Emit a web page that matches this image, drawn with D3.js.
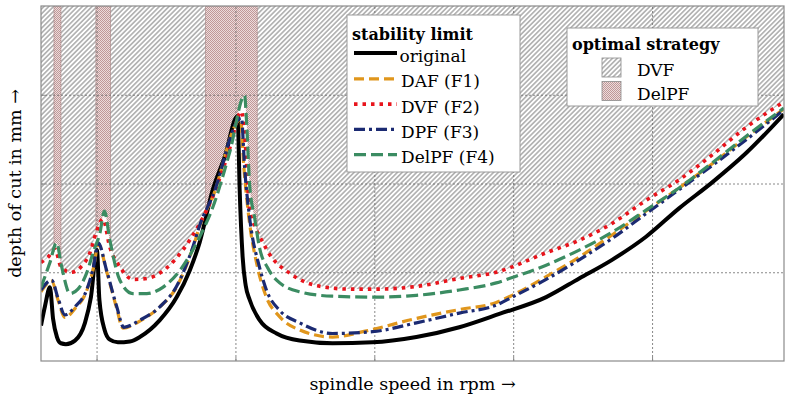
<!DOCTYPE html>
<html>
<head>
<meta charset="utf-8">
<script src="https://cdn.jsdelivr.net/npm/d3@7"></script>
<style>
  body { margin: 0; background: #fff; }
  svg { display: block; }
</style>
</head>
<body>
<div class="canvas"></div>
<script>
// stability limits, [spindle speed in rpm, depth of cut in mm]
const original = [[1200,0.40],[1258,0.62],[1329,0.83],[1373,0.48],[1430,0.27],[1487,0.20],[1559,0.19],[1689,0.23],[1833,0.43],[1919,0.72],[2005,1.25],[2041,0.69],[2116,0.35],[2192,0.24],[2307,0.21],[2480,0.22],[2623,0.27],[2911,0.46],[3155,0.72],[3342,1.02],[3486,1.34],[3673,1.93],[3846,2.30],[4032,2.76],[4061,1.93],[4104,1.17],[4148,0.85],[4205,0.69],[4349,0.46],[4593,0.31],[4924,0.23],[5398,0.20],[5973,0.21],[6606,0.27],[7224,0.38],[7800,0.53],[8475,0.72],[8950,0.93],[9424,1.14],[9913,1.40],[10388,1.72],[10862,2.01],[11351,2.34],[11897,2.78]];
const daf = [[1200,0.78],[1354,0.90],[1444,0.69],[1545,0.49],[1689,0.59],[1857,0.79],[1962,1.07],[2024,1.32],[2145,1.01],[2288,0.60],[2379,0.37],[2623,0.45],[2911,0.61],[3151,0.83],[3385,1.27],[3486,1.52],[3673,1.85],[4075,2.72],[4119,2.21],[4190,1.64],[4320,1.05],[4435,0.74],[4636,0.50],[4924,0.35],[5398,0.27],[5887,0.34],[6606,0.48],[7224,0.58],[7757,0.66],[7986,0.74],[8475,0.95],[8950,1.17],[9424,1.42],[9913,1.69],[10388,1.95],[10862,2.22],[11351,2.52],[11897,2.84]];
const dvf = [[1200,1.11],[1301,1.17],[1401,1.26],[1487,1.06],[1631,1.00],[1775,1.06],[1905,1.22],[1991,1.44],[2091,1.60],[2192,1.28],[2336,1.06],[2523,0.92],[2724,0.93],[3012,1.05],[3242,1.25],[3486,1.55],[3673,1.85],[3889,2.32],[4090,2.81],[4133,2.55],[4205,1.70],[4291,1.50],[4378,1.36],[4493,1.20],[4780,0.99],[5164,0.85],[5643,0.81],[6031,0.81],[6606,0.84],[7224,0.93],[7757,1.00],[8475,1.22],[8950,1.36],[9424,1.55],[9913,1.81],[10388,2.04],[10862,2.32],[11351,2.63],[11897,2.92]];
const dpf = [[1200,0.80],[1354,0.91],[1444,0.71],[1545,0.52],[1689,0.61],[1857,0.80],[1962,1.08],[2024,1.33],[2145,1.02],[2288,0.62],[2393,0.38],[2623,0.46],[2911,0.61],[3151,0.84],[3385,1.28],[3486,1.53],[3673,1.86],[4086,2.74],[4133,2.17],[4205,1.61],[4349,1.05],[4446,0.80],[4636,0.57],[4924,0.43],[5398,0.31],[5973,0.33],[6606,0.43],[7224,0.54],[7757,0.63],[7986,0.72],[8475,0.92],[8950,1.14],[9424,1.38],[9913,1.66],[10388,1.93],[10862,2.20],[11351,2.49],[11897,2.83]];
const delpf = [[1200,0.83],[1329,1.11],[1423,1.33],[1498,1.06],[1617,0.76],[1732,0.81],[1857,0.99],[1962,1.25],[2048,1.44],[2113,1.69],[2192,1.36],[2336,0.91],[2523,0.76],[2724,0.76],[2954,0.83],[3199,1.02],[3486,1.40],[3673,1.73],[3917,2.35],[4133,2.99],[4157,2.74],[4205,1.98],[4277,1.61],[4349,1.27],[4464,1.05],[4593,0.91],[4924,0.78],[5398,0.73],[6031,0.72],[6606,0.74],[7224,0.80],[7757,0.88],[7986,0.94],[8475,1.08],[8950,1.25],[9424,1.45],[9913,1.70],[10388,1.95],[10862,2.23],[11351,2.53],[11897,2.85]];

// speed ranges where DelPF is the optimal strategy (DVF elsewhere)
const delpfRanges = [[1387,1487],[1991,2199],[3572,4313]];

const xTicks = [2000, 4000, 6000, 8000, 10000];
const yTicks = [1, 2, 3];

const seriesNames = ['original', 'DAF (F1)', 'DVF (F2)', 'DPF (F3)', 'DelPF (F4)'];
const seriesData = [original, daf, dvf, dpf, delpf];

const width = 787, height = 398;
const margin = { top: 6, right: 2, bottom: 37, left: 41 };

const styles = {
  'original':   { color: '#000000', width: 4,   dash: null },
  'DAF (F1)':   { color: '#e0961c', width: 3.2, dash: '10,5' },
  'DVF (F2)':   { color: '#e8141c', width: 3.6, dash: '3.5,5' },
  'DPF (F3)':   { color: '#1b2a72', width: 3.2, dash: '11,4,3,4' },
  'DelPF (F4)': { color: '#3b8c62', width: 3.2, dash: '12,5' }
};

const x = d3.scaleLinear().domain([1200, 11900]).range([margin.left, width - margin.right - 1]);
const y = d3.scaleLinear().domain([0, 4]).range([height - margin.bottom, margin.top]);

const svg = d3.select('.canvas')
  .append('svg')
  .attr('width', width)
  .attr('height', height)
  .attr('viewBox', [0, 0, width, height])
  .style('font-family', '"DejaVu Serif", serif');

const defs = svg.append('defs');

// DVF hatch
const hatch = defs.append('pattern')
  .attr('id', 'hatch')
  .attr('patternUnits', 'userSpaceOnUse')
  .attr('width', 3.4).attr('height', 3.4)
  .attr('patternTransform', 'rotate(45)');
hatch.append('rect').attr('width', 3.4).attr('height', 3.4).attr('fill', '#fff');
hatch.append('line')
  .attr('x1', 1.7).attr('x2', 1.7).attr('y1', 0).attr('y2', 3.4)
  .attr('stroke', '#707070').attr('stroke-width', 0.9);

// DelPF checker
const chk = defs.append('pattern')
  .attr('id', 'checker')
  .attr('patternUnits', 'userSpaceOnUse')
  .attr('width', 2).attr('height', 2);
chk.append('rect').attr('width', 2).attr('height', 2).attr('fill', '#ecdcdc');
chk.append('rect').attr('width', 1).attr('height', 1).attr('fill', '#c09898');
chk.append('rect').attr('x', 1).attr('y', 1).attr('width', 1).attr('height', 1).attr('fill', '#c09898');

defs.append('clipPath').attr('id', 'plotclip')
  .append('rect')
  .attr('x', x.range()[0]).attr('y', y.range()[1])
  .attr('width', x.range()[1] - x.range()[0])
  .attr('height', y.range()[0] - y.range()[1]);

const plot = svg.append('g').attr('clip-path', 'url(#plotclip)');

plot.append('rect')
  .attr('x', x.range()[0]).attr('y', y.range()[1])
  .attr('width', x.range()[1] - x.range()[0])
  .attr('height', y.range()[0] - y.range()[1])
  .attr('fill', 'url(#hatch)');

plot.selectAll('rect.delpf')
  .data(delpfRanges)
  .join('rect')
  .attr('class', 'delpf')
  .attr('x', d => x(d[0]))
  .attr('y', y.range()[1])
  .attr('width', d => x(d[1]) - x(d[0]))
  .attr('height', y.range()[0] - y.range()[1])
  .attr('fill', 'url(#checker)')
  .attr('stroke', '#a88080')
  .attr('stroke-width', 0.6);

// blank out everything below each stability limit -> leaves strategy region above the envelope
const area = d3.area()
  .curve(d3.curveMonotoneX)
  .x(d => x(d[0]))
  .y0(y(0))
  .y1(d => y(d[1]));

plot.selectAll('path.under')
  .data(seriesData)
  .join('path')
  .attr('class', 'under')
  .attr('d', area)
  .attr('fill', '#fff');

// grid
const gx = plot.append('g')
  .attr('transform', `translate(0,${y(0)})`)
  .call(d3.axisBottom(x).tickValues(xTicks).tickSize(-(y(0) - y(4))).tickFormat(''));
const gy = plot.append('g')
  .attr('transform', `translate(${x.range()[0]},0)`)
  .call(d3.axisLeft(y).tickValues(yTicks).tickSize(-(x.range()[1] - x.range()[0])).tickFormat(''));
[gx, gy].forEach(g => {
  g.select('.domain').remove();
  g.selectAll('line')
    .attr('stroke', '#6a6a6a')
    .attr('stroke-width', 0.8)
    .attr('stroke-dasharray', '2,2');
});

// curves
const line = d3.line()
  .curve(d3.curveMonotoneX)
  .x(d => x(d[0]))
  .y(d => y(d[1]));

plot.selectAll('path.limit')
  .data(seriesNames)
  .join('path')
  .attr('class', 'limit')
  .attr('d', (d, i) => line(seriesData[i]))
  .attr('fill', 'none')
  .attr('stroke', d => styles[d].color)
  .attr('stroke-width', d => styles[d].width)
  .attr('stroke-dasharray', d => styles[d].dash)
  .attr('stroke-linejoin', 'round');

// frame + small ticks
svg.append('g')
  .attr('transform', `translate(0,${y(0)})`)
  .call(d3.axisBottom(x).tickValues(xTicks).tickSize(-4).tickFormat(''))
  .call(g => g.selectAll('line').attr('stroke', '#888'))
  .call(g => g.select('.domain').remove());
svg.append('g')
  .attr('transform', `translate(${x.range()[0]},0)`)
  .call(d3.axisLeft(y).tickValues(yTicks).tickSize(-4).tickFormat(''))
  .call(g => g.selectAll('line').attr('stroke', '#888'))
  .call(g => g.select('.domain').remove());

svg.append('rect')
  .attr('x', x.range()[0]).attr('y', y.range()[1])
  .attr('width', x.range()[1] - x.range()[0])
  .attr('height', y.range()[0] - y.range()[1])
  .attr('fill', 'none')
  .attr('stroke', '#8a8a8a')
  .attr('stroke-width', 1.2);

// axis labels
svg.append('text')
  .attr('x', (x.range()[0] + x.range()[1]) / 2)
  .attr('y', 390)
  .attr('text-anchor', 'middle')
  .attr('font-size', 17.5)
  .text('spindle speed in rpm →');

svg.append('text')
  .attr('transform', `translate(21,${(y.range()[0] + y.range()[1]) / 2}) rotate(-90)`)
  .attr('text-anchor', 'middle')
  .attr('font-size', 17.5)
  .text('depth of cut in mm →');

// legend: stability limit
const leg1 = svg.append('g');
leg1.append('rect')
  .attr('x', 347).attr('y', 15).attr('width', 173).attr('height', 157)
  .attr('fill', '#fff').attr('stroke', '#9a9a9a').attr('stroke-width', 1);
leg1.append('text')
  .attr('x', 352).attr('y', 39.5)
  .attr('font-size', 16).attr('font-weight', 'bold')
  .text('stability limit');
const rows = leg1.selectAll('g.row')
  .data(seriesNames)
  .join('g')
  .attr('class', 'row')
  .attr('transform', (d, i) => `translate(0,${62 + i * 25.3})`);
rows.append('line')
  .attr('x1', 354).attr('x2', 397)
  .attr('y1', (d, i) => i === 0 ? -9 : -8.5)
  .attr('y2', (d, i) => i === 0 ? -9 : -8.5)
  .attr('stroke', d => styles[d].color)
  .attr('stroke-width', d => styles[d].width)
  .attr('stroke-dasharray', d => styles[d].dash);
rows.append('text')
  .attr('x', (d, i) => i === 0 ? 399.5 : 401)
  .attr('font-size', 17)
  .text(d => d);

// legend: optimal strategy
const leg2 = svg.append('g');
leg2.append('rect')
  .attr('x', 567).attr('y', 28).attr('width', 191).attr('height', 78)
  .attr('fill', '#fff').attr('stroke', '#9a9a9a').attr('stroke-width', 1);
leg2.append('text')
  .attr('x', 572).attr('y', 50)
  .attr('font-size', 16).attr('font-weight', 'bold')
  .text('optimal strategy');
const strategies = [['DVF', 'url(#hatch)'], ['DelPF', 'url(#checker)']];
strategies.forEach(([name, fill], i) => {
  leg2.append('rect')
    .attr('x', 602).attr('y', 58 + i * 23.5)
    .attr('width', 19).attr('height', 19)
    .attr('fill', fill).attr('stroke', '#8a8a8a').attr('stroke-width', 0.8);
  leg2.append('text')
    .attr('x', 637).attr('y', 76 + i * 24)
    .attr('font-size', 17)
    .text(name);
});
</script>
</body>
</html>
